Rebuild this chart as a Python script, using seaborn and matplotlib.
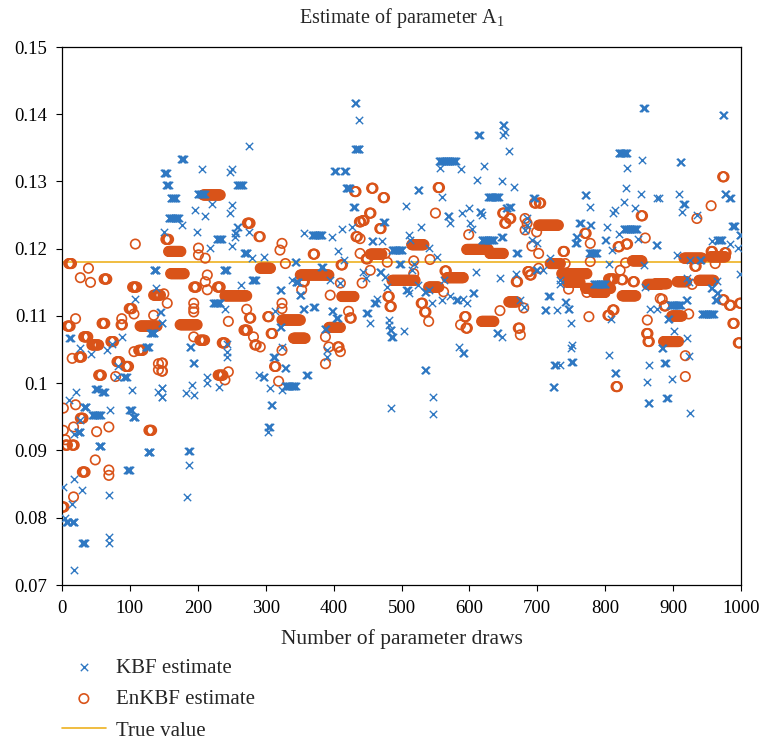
import numpy as np
import pandas as pd
import matplotlib
matplotlib.use("Agg")
import matplotlib.pyplot as plt
import seaborn as sns
from matplotlib.ticker import FormatStrFormatter

# ---------------- data ----------------
# each run: (first draw, last draw, value) -- the chain holds a value over a run of draws
kbf_runs = [
    (2, 2, .0846), (5, 5, .0799), (6, 9, .0794), (15, 18, .0794), (10, 10, .0975), (11, 13, .1067),
    (15, 15, .0821), (17, 17, .0925), (17, 17, .0858), (17, 17, .0722), (20, 20, .0987), (23, 27, .0928),
    (27, 27, .1052), (27, 27, .0945), (29, 29, .0841), (30, 34, .0762), (32, 36, .0965), (42, 42, .1044),
    (44, 57, .0953), (49, 53, .0992), (54, 58, .0906), (59, 63, .0987), (66, 66, .1049), (69, 69, .0834),
    (69, 69, .0772), (69, 69, .0762), (71, 71, .0960), (74, 74, .1059), (81, 81, .1010), (83, 83, .1025),
    (88, 88, .1069), (91, 95, .1010), (96, 100, .0871), (99, 103, .0960), (103, 103, .0990), (104, 108, .0950),
    (108, 108, .1126), (123, 128, .1054), (126, 130, .0898), (130, 136, .1074), (135, 139, .1168),
    (139, 139, .1141), (142, 142, .0987),
    (145, 146, .1106), (147, 148, .1089), (147, 148, .0993), (147, 148, .0980), (150, 150, .1225),
    (150, 154, .1312), (153, 157, .1295), (157, 172, .1245), (160, 168, .1275), (175, 179, .1334),
    (177, 177, .1235), (182, 182, .0985), (184, 184, .0831), (186, 188, .0899), (187, 187, .0879),
    (188, 190, .1054), (191, 191, .0997), (193, 195, .1030), (194, 194, .0982), (196, 196, .1257),
    (199, 199, .1225), (200, 210, .1282), (206, 206, .1319), (211, 211, .1248), (214, 214, .1010),
    (214, 214, .1000), (218, 218, .1201), (221, 221, .1266), (223, 233, .1119), (228, 235, .1214),
    (231, 231, .0995), (238, 243, .1168), (240, 240, .1111), (243, 243, .1059), (243, 243, .1047),
    (243, 243, .1039), (248, 248, .1314), (248, 248, .1253), (250, 250, .1319), (250, 250, .1265),
    (250, 250, .1204), (255, 256, .1223), (255, 255, .1218), (258, 266, .1295), (258, 259, .1232),
    (263, 263, .1146), (268, 273, .1193), (275, 275, .1353), (275, 275, .1225), (280, 280, .1186),
    (280, 285, .1154), (290, 290, .1012),
    (297, 297, .1188), (296, 298, .1010), (304, 306, .0935), (304, 304, .0928), (307, 307, .0993),
    (308, 310, .0968), (311, 313, .1039), (314, 314, .1107), (321, 323, .1084), (321, 323, .1139),
    (324, 324, .1054), (324, 324, .0990), (328, 330, .1022), (329, 344, .0996), (339, 339, .1153),
    (344, 348, .1151), (343, 345, .1181), (350, 352, .1131), (355, 357, .1110), (356, 356, .1223),
    (360, 362, .1012), (368, 383, .1221), (370, 372, .1114), (382, 384, .1173), (387, 389, .1081),
    (390, 390, .1049), (390, 390, .1039), (395, 395, .1153), (397, 399, .1107), (398, 398, .1218),
    (401, 403, .1316), (404, 406, .1097), (407, 407, .1196), (410, 410, .1149), (412, 412, .1230),
    (415, 415, .1183), (416, 418, .1316), (418, 424, .1291), (427, 427, .1233), (429, 431, .1262),
    (431, 433, .1416), (432, 438, .1349), (437, 437, .1392),
    (444, 444, .1166), (447, 447, .1156), (448, 450, .1104), (454, 454, .1089), (456, 458, .1211),
    (460, 462, .1119), (464, 464, .1126), (468, 470, .1166), (471, 471, .1211), (473, 475, .1240),
    (476, 476, .1158), (479, 479, .1143), (481, 481, .1094), (481, 481, .1087), (483, 485, .1079),
    (484, 484, .0963), (485, 487, .1069), (486, 501, .1198), (497, 499, .1178), (503, 503, .1077),
    (506, 506, .1263), (507, 509, .1139), (511, 511, .1134), (511, 511, .1221), (513, 513, .1213),
    (516, 516, .1168), (518, 518, .1178), (524, 526, .1287), (525, 525, .1146), (528, 528, .1233),
    (534, 536, .1136), (534, 536, .1020), (540, 540, .1201), (540, 540, .1139), (545, 545, .1119),
    (547, 547, .0980), (547, 547, .0955), (552, 552, .1188), (555, 580, .1331), (557, 557, .1320),
    (560, 560, .1277), (560, 560, .1124), (562, 562, .1153), (568, 570, .1248), (572, 572, .1238),
    (572, 572, .1129), (581, 583, .1124), (584, 584, .1054),
    (587, 587, .1319), (589, 589, .1253), (590, 592, .1045), (591, 591, .1126), (596, 596, .1119),
    (599, 599, .1261), (601, 601, .1238), (604, 604, .1230), (605, 607, .1134), (609, 609, .1165),
    (611, 611, .1302), (613, 615, .1369), (615, 617, .1255), (618, 618, .1250), (618, 636, .1213),
    (621, 621, .1323), (628, 643, .1277), (640, 642, .1074), (645, 645, .1156), (647, 649, .1218),
    (648, 648, .1300), (648, 648, .1069), (649, 651, .1384), (653, 653, .1374), (650, 650, .1369),
    (654, 656, .1260), (658, 658, .1346), (659, 661, .1262), (665, 665, .1292), (668, 668, .1163),
    (669, 671, .1193), (675, 675, .1124), (680, 680, .1114), (682, 682, .1228), (685, 685, .1245),
    (685, 685, .1235), (692, 692, .1213), (694, 696, .1275), (698, 700, .1168), (699, 699, .1208),
    (709, 709, .1168), (711, 713, .1109), (716, 718, .1129), (719, 719, .1186), (723, 725, .0995),
    (725, 727, .1027), (729, 729, .1109), (734, 734, .1153), (734, 734, .1148), (734, 734, .1027),
    (741, 742, .1121), (745, 747, .1111), (749, 749, .1089), (749, 749, .1052), (751, 751, .1057),
    (750, 752, .1032), (756, 758, .1208), (757, 759, .1218), (762, 764, .1238), (770, 772, .1280),
    (776, 788, .1193), (778, 778, .1262), (778, 779, .1235), (783, 800, .1148), (800, 801, .1213),
    (803, 803, .1233), (805, 805, .1178), (805, 805, .1042), (808, 808, .1096), (810, 810, .1198),
    (812, 812, .1253), (814, 816, .1015), (815, 815, .1257), (820, 820, .1222), (820, 832, .1342),
    (827, 827, .1270), (827, 847, .1230), (830, 830, .1291), (832, 832, .1320), (844, 844, .1261),
    (849, 849, .1214), (852, 852, .1282), (854, 854, .1332), (856, 858, .1409), (857, 857, .1176),
    (859, 859, .1143), (862, 862, .1002), (863, 865, .0971), (864, 864, .1027), (866, 866, .1111),
    (875, 877, .1206), (876, 876, .1275),
    (876, 876, .1111), (879, 879, .1276), (883, 885, .1053), (887, 889, .1030), (890, 892, .0978),
    (892, 894, .1096), (896, 911, .1116), (898, 898, .1006), (901, 901, .1078), (906, 906, .1190),
    (908, 908, .1282), (910, 912, .1329), (913, 913, .1255), (915, 917, .1267), (919, 921, .1124),
    (920, 920, .1156), (920, 920, .1067), (923, 923, .1151), (923, 923, .1040), (925, 925, .1183),
    (925, 925, .0956), (935, 935, .1250), (939, 941, .1183), (942, 960, .1103), (957, 957, .1211),
    (956, 958, .1141), (962, 964, .1124), (965, 965, .1152), (964, 966, .1134), (965, 972, .1213),
    (973, 975, .1399), (976, 978, .1282), (983, 985, .1275), (984, 984, .1207), (987, 991, .1234),
    (996, 996, .1201), (998, 1000, .1220), (999, 999, .1162),
]

enkbf_runs = [
    (0, 3, .0816), (2, 2, .0963), (2, 2, .0930), (5, 5, .0916), (5, 8, .0908), (15, 18, .0908),
    (8, 12, .1085), (10, 14, .1178), (15, 15, .1037), (17, 17, .0935), (17, 17, .0831), (20, 20, .1096),
    (20, 20, .0968), (25, 29, .1039), (27, 27, .1157), (27, 31, .0948), (30, 34, .0868), (32, 38, .1069),
    (39, 39, .1171), (42, 42, .1150), (44, 54, .1057), (49, 49, .0886), (51, 51, .0928), (54, 58, .1012),
    (59, 63, .1089), (62, 66, .1155), (69, 69, .0935), (69, 69, .0871), (69, 69, .0863), (72, 76, .1062),
    (79, 79, .1010), (81, 85, .1032), (88, 88, .1096), (87, 89, .1087), (94, 98, .1025), (99, 103, .1111),
    (104, 110, .1143), (106, 106, .1103), (106, 106, .1047), (108, 108, .1207), (113, 119, .1049),
    (115, 140, .1085), (128, 132, .0930), (135, 135, .1101), (135, 145, .1131), (142, 142, .1029),
    (142, 142, .1020),
    (147, 148, .1030), (147, 148, .1018), (153, 157, .1214), (150, 150, .1133), (155, 155, .1119),
    (157, 175, .1196), (160, 180, .1163), (174, 199, .1087), (194, 194, .1119), (194, 194, .1111),
    (194, 194, .1106), (194, 198, .1143), (194, 194, .1069), (201, 201, .1201), (201, 201, .1191),
    (203, 210, .1064), (208, 233, .1280), (211, 211, .1186), (211, 211, .1151), (214, 214, .1161),
    (214, 214, .1139), (229, 233, .1143), (230, 237, .1012), (236, 240, .1060), (240, 240, .1005),
    (240, 272, .1130), (245, 245, .1092), (245, 245, .1017), (268, 273, .1079), (272, 272, .1110),
    (273, 277, .1238), (276, 278, .1097), (282, 282, .1069), (284, 286, .1057), (290, 290, .1218),
    (292, 292, .1218), (292, 307, .1171), (292, 292, .1054), (303, 305, .1099), (308, 310, .1074),
    (313, 315, .1025), (319, 319, .1003), (321, 321, .1198), (324, 324, .1208), (324, 324, .1119),
    (324, 324, .1111), (324, 324, .1049), (324, 351, .1094), (329, 329, .1178), (341, 358, .1067),
    (351, 393, .1161), (353, 353, .1139), (355, 357, .1151), (370, 372, .1192), (388, 388, .1069),
    (388, 388, .1029), (393, 393, .1054), (393, 410, .1083), (395, 395, .1131), (406, 408, .1054),
    (410, 410, .1047), (410, 410, .1149), (411, 413, .1176), (412, 430, .1129), (422, 422, .1107),
    (424, 426, .1097), (431, 433, .1285), (433, 435, .1218), (438, 440, .1240),
    (439, 439, .1215), (439, 439, .1193), (442, 442, .1149), (443, 445, .1242), (448, 450, .1185),
    (453, 455, .1253), (454, 454, .1168), (454, 471, .1192), (456, 458, .1290), (468, 470, .1230),
    (473, 475, .1276), (476, 476, .1193), (479, 479, .1180), (480, 482, .1129), (483, 485, .1114),
    (486, 520, .1153), (515, 533, .1206), (518, 518, .1182), (518, 518, .1163), (529, 531, .1119),
    (534, 536, .1106), (540, 540, .1092), (540, 555, .1143), (542, 542, .1184), (550, 550, .1253),
    (554, 556, .1291), (562, 562, .1136), (564, 566, .1167), (567, 591, .1157), (587, 587, .1087),
    (593, 595, .1099), (595, 597, .1082), (596, 628, .1199), (599, 599, .1221), (618, 636, .1092),
    (630, 650, .1193), (645, 645, .1108), (649, 651, .1253), (652, 654, .1238), (658, 670, .1121),
    (659, 661, .1245), (669, 671, .1151), (672, 674, .1082), (675, 675, .1072), (680, 680, .1112),
    (682, 682, .1245), (682, 682, .1228), (685, 685, .1238), (686, 688, .1166), (689, 691, .1161),
    (692, 692, .1204), (696, 698, .1268), (699, 699, .1225), (702, 702, .1193), (702, 702, .1171),
    (702, 731, .1235), (703, 705, .1268), (719, 734, .1178),
    (736, 773, .1163), (738, 740, .1196), (741, 741, .1178), (744, 763, .1150), (746, 746, .1140),
    (771, 808, .1141), (770, 772, .1223), (773, 773, .1135), (776, 776, .1099), (778, 778, .1208),
    (778, 778, .1181), (783, 800, .1135), (804, 806, .1101), (805, 813, .1155), (811, 813, .1109),
    (816, 818, .0995), (819, 821, .1203), (822, 822, .1168), (824, 826, .1154), (825, 845, .1130),
    (830, 830, .1179), (831, 833, .1207), (840, 854, .1182), (841, 843, .1151), (853, 855, .1249),
    (859, 859, .1216), (861, 863, .1074), (862, 862, .1094), (863, 865, .1062), (862, 881, .1147),
    (881, 881, .1126),
    (874, 891, .1148), (884, 884, .1125), (887, 889, .1115), (886, 908, .1062), (898, 913, .1100),
    (906, 920, .1151), (916, 943, .1186), (918, 918, .1041), (918, 918, .1010), (923, 923, .1103),
    (928, 928, .1147), (932, 934, .1174), (935, 935, .1245), (938, 960, .1153), (955, 977, .1188),
    (956, 956, .1264), (956, 958, .1196), (962, 962, .1178), (973, 975, .1307), (973, 975, .1124),
    (976, 978, .1194), (983, 985, .1116), (988, 990, .1089), (996, 998, .1060), (998, 1000, .1119),
]

true_value = 0.118
x_ticks = [0, 100, 200, 300, 400, 500, 600, 700, 800, 900, 1000]
y_ticks = [0.07, 0.08, 0.09, 0.10, 0.11, 0.12, 0.13, 0.14, 0.15]
title = "Estimate of parameter A$_\\mathregular{1}$"
x_label = "Number of parameter draws"
labels = ["KBF estimate", "EnKBF estimate", "True value"]


def expand(runs):
    draws, vals = [], []
    for first, last, v in runs:
        for d in range(first, last + 1):
            draws.append(d)
            vals.append(v)
    return pd.DataFrame({"draw": draws, "value": vals})


kbf = expand(kbf_runs)
enkbf = expand(enkbf_runs)

# ---------------- style ----------------
sns.set_theme(style="ticks")
plt.rcParams["font.family"] = ["Liberation Serif", "DejaVu Serif"]
plt.rcParams["mathtext.fontset"] = "custom"
plt.rcParams["mathtext.rm"] = "Liberation Serif"
plt.rcParams["mathtext.it"] = "Liberation Serif:italic"

BLUE = "#2f78c2"
ORANGE = "#D95319"
YELLOW = "#EDB120"

fig = plt.figure(figsize=(7.62, 7.39), dpi=100)
ax = fig.add_axes([62 / 762, 1 - 585 / 739, (741 - 62) / 762, (585 - 47) / 739])

sns.scatterplot(data=kbf, x="draw", y="value", ax=ax, marker="x", s=28,
                color=BLUE, linewidth=1.0, label=labels[0], zorder=3)
sns.scatterplot(data=enkbf, x="draw", y="value", ax=ax, marker="o", s=46,
                color=ORANGE, facecolor="none", edgecolor=ORANGE, linewidth=1.2,
                label=labels[1], zorder=2)
ax.axhline(true_value, color=YELLOW, lw=1.2, label=labels[2], zorder=1)

ax.set_xlim(0, 1000)
ax.set_ylim(0.07, 0.15)
ax.set_xticks(x_ticks)
ax.set_yticks(y_ticks)
ax.yaxis.set_major_formatter(FormatStrFormatter("%g"))
ax.tick_params(direction="out", length=4.5, width=0.8, labelsize=13.5, colors="black", pad=6)
for sp in ax.spines.values():
    sp.set_visible(True)
    sp.set_linewidth(0.9)
    sp.set_color("black")

ax.set_xlabel(x_label, fontsize=15.5, labelpad=9)
ax.set_ylabel("")
ax.set_title(title, fontsize=14.5, pad=17)

ax.get_legend().remove()
handles, lbls = ax.get_legend_handles_labels()
fig.legend(handles, lbls, loc="upper left", bbox_to_anchor=(62 / 762, 1 - 658 / 739),
           frameon=False, fontsize=15, borderpad=0, labelspacing=0.57,
           handlelength=2.1, handletextpad=0.48, borderaxespad=0)

fig.savefig("out.png", dpi=100)
